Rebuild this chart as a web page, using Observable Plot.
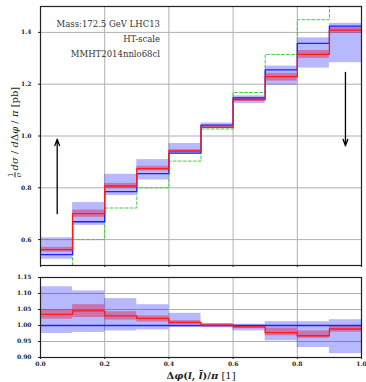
<!DOCTYPE html>
<html><head><meta charset="utf-8">
<script src="https://cdn.jsdelivr.net/npm/d3@7"></script>
<script src="https://cdn.jsdelivr.net/npm/@observablehq/plot@0.6"></script>
<style>
body{margin:0;background:#fff;}
#chart{position:relative;width:366px;height:382px;overflow:hidden;}
#chart svg{display:block;overflow:visible;}
.lbl{position:absolute;font-family:"DejaVu Serif","Liberation Serif",serif;color:#222;line-height:1;}
</style>
</head><body>
<div id="chart"></div>
<script>
// bin edges
const edges = [0.0,0.1,0.2,0.3,0.4,0.5,0.6,0.7,0.8,0.9,1.0];
// main panel
const blueVal  = [0.542,0.669,0.785,0.855,0.934,1.042,1.147,1.255,1.358,1.424];
const blueLo   = [0.524,0.655,0.770,0.830,0.929,1.029,1.125,1.196,1.262,1.283];
const blueHi   = [0.607,0.743,0.852,0.909,0.971,1.050,1.155,1.270,1.379,1.435];
const redVal   = [0.561,0.700,0.807,0.874,0.942,1.033,1.141,1.229,1.315,1.409];
const redLo    = [0.552,0.686,0.797,0.865,0.937,1.028,1.133,1.212,1.300,1.397];
const redHi    = [0.570,0.714,0.817,0.883,0.947,1.038,1.149,1.242,1.330,1.420];
const greenVal = [0.450,0.600,0.722,0.800,0.903,1.027,1.168,1.315,1.449,1.560];
// ratio panel
const rBlueLo  = [0.975,0.978,0.983,0.986,0.994,0.996,0.983,0.952,0.931,0.912];
const rBlueHi  = [1.121,1.108,1.084,1.065,1.038,1.006,1.004,1.012,1.012,1.018];
const rRedVal  = [1.035,1.046,1.030,1.022,1.010,1.001,0.996,0.978,0.968,0.989];
const rRedLo   = [1.020,1.025,1.017,1.011,1.003,0.993,0.990,0.968,0.960,0.979];
const rRedHi   = [1.050,1.065,1.043,1.030,1.015,1.005,1.000,0.992,0.983,0.998];
const rBlueVal = [1,1,1,1,1,1,1,1,1,1];
// ticks
const xTicks = [0.0,0.2,0.4,0.6,0.8,1.0];
const yTicksMain = [0.6,0.8,1.0,1.2,1.4];
const yTicksRatio = [0.90,0.95,1.00,1.05,1.10,1.15];
// arrows
const arrows = [{x:0.052,y1:0.70,y2:0.988},{x:0.950,y1:1.246,y2:0.962}];
// annotations
const notes = ["Mass:172.5 GeV LHC13","HT-scale","MMHT2014nnlo68cl"];

const bins = blueVal.map((_, i) => ({x1: edges[i], x2: edges[i+1]}));
const rects = (lo, hi) => bins.map((b, i) => ({...b, y1: lo[i], y2: hi[i]}));
const steps = (vals) => edges.map((e, i) => ({x: e, y: vals[Math.min(i, vals.length-1)]}));

const BLUE = "#1f1fff", RED = "#ff1a1a", GREEN = "#44cc44";
const font = "DejaVu Serif, Liberation Serif, serif";
const W = 366;

const main = Plot.plot({
  width: W, height: 270,
  marginLeft: 40, marginRight: 5, marginTop: 6, marginBottom: 5,
  style: {fontFamily: font, fontSize: "6px", color: "#222", background: "#fff"},
  x: {domain: [0, 1], ticks: xTicks, tickFormat: () => "", tickSize: 2, label: null},
  y: {domain: [0.5, 1.5], ticks: yTicksMain, tickFormat: d3.format(".1f"), tickSize: 2, label: null},
  marks: [
    Plot.gridX(xTicks, {stroke: "#b0b0b0", strokeOpacity: 1, strokeWidth: 1}),
    Plot.gridY(yTicksMain, {stroke: "#b0b0b0", strokeOpacity: 1, strokeWidth: 1}),
    Plot.rect(rects(blueLo, blueHi), {x1: "x1", x2: "x2", y1: "y1", y2: "y2", fill: "#0000ff", fillOpacity: 0.28}),
    Plot.rect(rects(redLo, redHi), {x1: "x1", x2: "x2", y1: "y1", y2: "y2", fill: "#e0204a", fillOpacity: 0.45}),
    Plot.line(steps(greenVal), {x: "x", y: "y", curve: "step-after", stroke: GREEN, strokeWidth: 1, strokeDasharray: "3,2", clip: true}),
    Plot.line(steps(blueVal), {x: "x", y: "y", curve: "step-after", stroke: BLUE, strokeWidth: 1.3}),
    Plot.line(steps(redVal), {x: "x", y: "y", curve: "step-after", stroke: RED, strokeWidth: 1.3}),
    Plot.arrow(arrows, {x: "x", y1: "y1", y2: "y2", stroke: "black", strokeWidth: 1.3, headLength: 8, headAngle: 40}),
    Plot.axisY(yTicksMain, {tickSize: 2, tickFormat: d3.format(".1f"), fontWeight: "bold", fontSize: 6}),
    Plot.frame({stroke: "#222", strokeWidth: 1.2})
  ]
});

const ratio = Plot.plot({
  width: W, height: 112,
  marginLeft: 40, marginRight: 5, marginTop: 7, marginBottom: 25,
  style: {fontFamily: font, fontSize: "6px", color: "#222", background: "#fff"},
  x: {domain: [0, 1], ticks: xTicks, tickFormat: d3.format(".1f"), tickSize: 2, label: null},
  y: {domain: [0.9, 1.15], ticks: yTicksRatio, tickFormat: d3.format(".2f"), tickSize: 2, label: null},
  marks: [
    Plot.gridX(xTicks, {stroke: "#b0b0b0", strokeOpacity: 1, strokeWidth: 1}),
    Plot.gridY(yTicksRatio, {stroke: "#b0b0b0", strokeOpacity: 1, strokeWidth: 1}),
    Plot.rect(rects(rBlueLo, rBlueHi), {x1: "x1", x2: "x2", y1: "y1", y2: "y2", fill: "#0000ff", fillOpacity: 0.28}),
    Plot.rect(rects(rRedLo, rRedHi), {x1: "x1", x2: "x2", y1: "y1", y2: "y2", fill: "#e0204a", fillOpacity: 0.45}),
    Plot.line(steps(rBlueVal), {x: "x", y: "y", curve: "step-after", stroke: BLUE, strokeWidth: 1.3}),
    Plot.line(steps(rRedVal), {x: "x", y: "y", curve: "step-after", stroke: RED, strokeWidth: 1.3}),
    Plot.axisY(yTicksRatio, {tickSize: 2, tickFormat: d3.format(".2f"), fontWeight: "bold", fontSize: 6}),
    Plot.axisX(xTicks, {tickSize: 2, tickPadding: 2, tickFormat: d3.format(".1f"), fontWeight: "bold", fontSize: 6}),
    Plot.frame({stroke: "#222", strokeWidth: 1.2})
  ]
});

const chart = document.getElementById("chart");
chart.appendChild(main);
chart.appendChild(ratio);

// annotation text (right-aligned)
const noteY = [20, 35, 50];
notes.forEach((t, i) => {
  const d = document.createElement("div");
  d.className = "lbl";
  d.textContent = t;
  d.style.cssText += `right:${W-160}px;top:${noteY[i]}px;font-size:8.5px;color:#333;white-space:nowrap;`;
  chart.appendChild(d);
});

// y label (rotated)
const yl = document.createElement("div");
yl.className = "lbl";
yl.innerHTML = '<span style="display:inline-block;vertical-align:middle;text-align:center;font-size:7px;line-height:7px;margin-right:2px"><span style="display:block;border-bottom:0.7px solid #222">1</span><span style="display:block;font-style:italic">σ</span></span><i>dσ</i> / <i>d</i>Δ<i>φ</i> / <i>π</i> [pb]';
yl.style.cssText += "left:15px;top:132px;font-size:10px;white-space:nowrap;transform:translate(-50%,-50%) rotate(-90deg);";
chart.appendChild(yl);

// x label
const xl = document.createElement("div");
xl.className = "lbl";
xl.innerHTML = '<b>Δ<i>φ</i>(<i>l</i>, <i>l̄</i>)/<i>π</i></b> [1]';
xl.style.cssText += "left:201px;top:376px;font-size:10px;white-space:nowrap;transform:translate(-50%,-50%);";
chart.appendChild(xl);
</script>
</body></html>
